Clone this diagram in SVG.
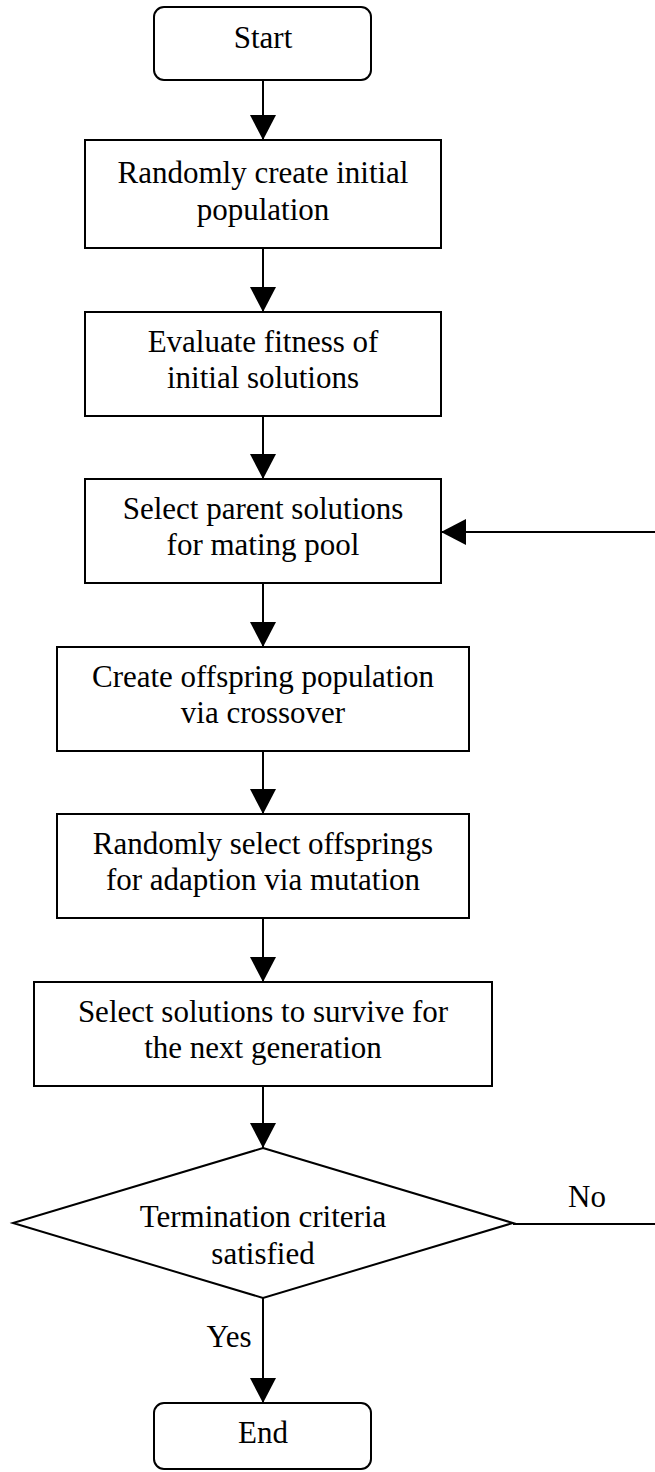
<svg xmlns="http://www.w3.org/2000/svg" width="655" height="1472" viewBox="0 0 655 1472">
  <style>
    .box { fill: #ffffff; stroke: #000000; stroke-width: 2; }
    .lbl { font-family: 'Liberation Serif', serif; font-size: 31px; fill: #000000; text-anchor: middle; }
    .edge { fill: none; stroke: #000000; stroke-width: 2; }
  </style>
  <defs>
    <marker id="arrow" markerUnits="userSpaceOnUse" markerWidth="26" markerHeight="26" viewBox="0 0 25 26" refX="25" refY="13" orient="auto">
      <path d="M0,0 L25,13 L0,26 Z" fill="#000000"/>
    </marker>
  </defs>

  <g id="connectors">
    <line class="edge" x1="263" y1="80" x2="263" y2="140" marker-end="url(#arrow)"/>
    <line class="edge" x1="263" y1="248" x2="263" y2="312" marker-end="url(#arrow)"/>
    <line class="edge" x1="263" y1="416" x2="263" y2="479" marker-end="url(#arrow)"/>
    <line class="edge" x1="263" y1="583" x2="263" y2="647" marker-end="url(#arrow)"/>
    <line class="edge" x1="263" y1="751" x2="263" y2="814" marker-end="url(#arrow)"/>
    <line class="edge" x1="263" y1="918" x2="263" y2="982" marker-end="url(#arrow)"/>
    <line class="edge" x1="263" y1="1086" x2="263" y2="1148" marker-end="url(#arrow)"/>
    <line class="edge" x1="263" y1="1298" x2="263" y2="1403" marker-end="url(#arrow)"/>
    <!-- loop back from the decision to the selection step -->
    <polyline class="edge" points="513,1224 658,1224 658,532 441,532" marker-end="url(#arrow)"/>
    <text class="lbl" x="587" y="1207" font-family="Liberation Serif, serif">No</text>
    <text class="lbl" x="229" y="1347" font-family="Liberation Serif, serif">Yes</text>
  </g>

  <g id="start">
    <rect class="box" x="154" y="7" width="217" height="73" rx="10" ry="10"/>
    <text class="lbl" x="263" y="48">Start</text>
  </g>

  <g id="init-population">
    <rect class="box" x="85" y="140" width="356" height="108"/>
    <text class="lbl" x="263" y="183">Randomly create initial</text>
    <text class="lbl" x="263" y="220">population</text>
  </g>

  <g id="evaluate-fitness">
    <rect class="box" x="85" y="312" width="356" height="104"/>
    <text class="lbl" x="263" y="352">Evaluate fitness of</text>
    <text class="lbl" x="263" y="388">initial solutions</text>
  </g>

  <g id="select-parents">
    <rect class="box" x="85" y="479" width="356" height="104"/>
    <text class="lbl" x="263" y="519">Select parent solutions</text>
    <text class="lbl" x="263" y="555">for mating pool</text>
  </g>

  <g id="crossover">
    <rect class="box" x="57" y="647" width="412" height="104"/>
    <text class="lbl" x="263" y="687">Create offspring population</text>
    <text class="lbl" x="263" y="723">via crossover</text>
  </g>

  <g id="mutation">
    <rect class="box" x="57" y="814" width="412" height="104"/>
    <text class="lbl" x="263" y="854">Randomly select offsprings</text>
    <text class="lbl" x="263" y="890">for adaption via mutation</text>
  </g>

  <g id="survivors">
    <rect class="box" x="34" y="982" width="458" height="104"/>
    <text class="lbl" x="263" y="1022">Select solutions to survive for</text>
    <text class="lbl" x="263" y="1058">the next generation</text>
  </g>

  <g id="termination">
    <polygon class="box" points="263,1148 513,1223 263,1298 13,1223"/>
    <text class="lbl" x="263" y="1227">Termination criteria</text>
    <text class="lbl" x="263" y="1264">satisfied</text>
  </g>

  <g id="end">
    <rect class="box" x="154" y="1403" width="217" height="66" rx="10" ry="10"/>
    <text class="lbl" x="263" y="1443">End</text>
  </g>
</svg>
